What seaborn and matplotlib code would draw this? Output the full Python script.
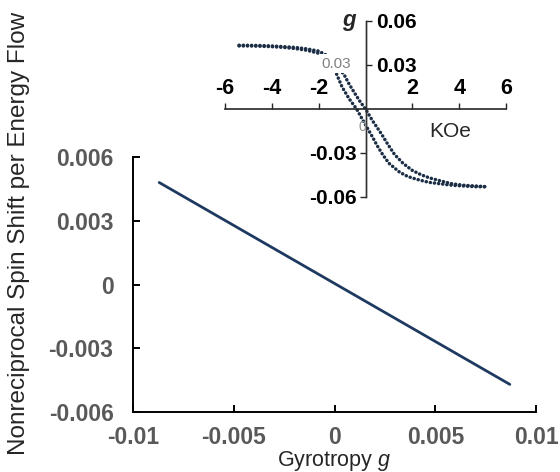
import matplotlib
matplotlib.use("Agg")
import matplotlib.pyplot as plt
import seaborn as sns

# ---------------- data ----------------
gyro = [-0.0087, 0.0087]
spin_shift = [0.0048, -0.0047]

main_xticks = [-0.01, -0.005, 0, 0.005, 0.01]
main_xlabels = ["-0.01", "-0.005", "0", "0.005", "0.01"]
main_yticks = [-0.006, -0.003, 0, 0.003, 0.006]
main_ylabels = ["-0.006", "-0.003", "0", "0.003", "0.006"]

# inset hysteresis loop (field in kOe, gyrotropy g)
field_a = [-5.4, -5.0, -4.5, -4.0, -3.5, -3.0, -2.5, -2.0, -1.7, -1.5, -1.24, -1.0,
           -0.7, -0.38, -0.1, 0.26, 0.5, 0.73, 1.0, 1.45, 1.8, 2.2, 2.7, 3.2, 3.7,
           4.2, 4.7, 5.2]
g_a = [0.043, 0.043, 0.0428, 0.0425, 0.042, 0.0412, 0.040, 0.038, 0.035, 0.031,
       0.024, 0.015, 0.007, 0.0, -0.008, -0.018, -0.025, -0.031, -0.037, -0.043,
       -0.046, -0.048, -0.050, -0.051, -0.052, -0.0525, -0.053, -0.053]
field_b = [-5.4, -4.5, -4.0, -3.5, -3.0, -2.5, -2.0, -1.7, -1.4, -1.15, -0.9, -0.7,
           -0.47, -0.25, 0.0, 0.3, 0.68, 0.95, 1.24, 1.6, 2.01, 2.4, 2.74, 3.2, 3.7,
           4.2, 4.7, 5.2]
g_b = [0.0435, 0.0433, 0.043, 0.0425, 0.042, 0.041, 0.0395, 0.037, 0.033, 0.028,
       0.023, 0.017, 0.011, 0.0055, 0.0, -0.008, -0.017, -0.024, -0.031, -0.037,
       -0.042, -0.045, -0.047, -0.049, -0.051, -0.052, -0.0525, -0.053]

inset_xticks = [-6, -4, -2, 2, 4, 6]
inset_xlabels = ["-6", "-4", "-2", "2", "4", "6"]
inset_yticks_neg = [-0.06, -0.03]
inset_ylabels_neg = ["-0.06", "-0.03"]
inset_yticks_pos = [0.03, 0.06]
inset_ylabels_pos = ["0.03", "0.06"]

# ---------------- style ----------------
sns.set_style("ticks")
plt.rcParams["font.family"] = ["Liberation Sans", "DejaVu Sans"]
plt.rcParams["mathtext.fontset"] = "custom"
plt.rcParams["mathtext.rm"] = "Liberation Sans"
plt.rcParams["mathtext.it"] = "Liberation Sans:italic"
plt.rcParams["mathtext.bf"] = "Liberation Sans:bold"

W, H = 560, 472
fig = plt.figure(figsize=(W / 100, H / 100), dpi=100)

# ---------------- main axes ----------------
ax = fig.add_axes([133 / W, 1 - 412 / H, 403 / W, 255 / H])
sns.lineplot(x=gyro, y=spin_shift, ax=ax, color="#1F3A60", linewidth=2.0)
ax.set_xlim(-0.01, 0.01)
ax.set_ylim(-0.006, 0.006)
ax.set_xticks(main_xticks, main_xlabels, fontweight="bold")
ax.set_yticks(main_yticks, main_ylabels, fontweight="bold")
ax.tick_params(direction="in", length=5, width=1.4, color="black",
               labelcolor="#595959", labelsize=16.5)
ax.tick_params(axis="x", pad=10)
ax.tick_params(axis="y", pad=14)
for s in ["top", "right"]:
    ax.spines[s].set_visible(False)
for s in ["left", "bottom"]:
    ax.spines[s].set_linewidth(1.4)
    ax.spines[s].set_color("black")

ax.set_xlabel("Gyrotropy $g$", fontsize=15.5, color="#262626", va="center")
ax.xaxis.set_label_coords(0.5, -0.192)
ax.set_ylabel("Nonreciprocal Spin Shift per Energy Flow", fontsize=17.5,
              color="#262626", va="center")
ax.yaxis.set_label_coords(-0.283, 0.70)

# ---------------- inset ----------------
axin = fig.add_axes([225 / W, 1 - 197 / H, 281 / W, 176 / H])
axin.patch.set_alpha(0)
dot_kw = dict(color="#1B2E45", linewidth=2.5, linestyle=(0, (0.05, 1.15)),
              dash_capstyle="round", sort=False)
sns.lineplot(x=field_a, y=g_a, ax=axin, **dot_kw)
sns.lineplot(x=field_b, y=g_b, ax=axin, **dot_kw)
axin.set_xlim(-6, 6)
axin.set_ylim(-0.06, 0.06)

axin.spines["bottom"].set_visible(False)
axin.spines["right"].set_visible(False)
axin.spines["top"].set_position(("data", 0))
axin.spines["left"].set_position(("data", 0))
axin.spines["top"].set_linewidth(1.2)
axin.spines["left"].set_linewidth(1.0)
axin.spines["left"].set_color("#333333")

axin.xaxis.set_ticks_position("top")
axin.set_xticks(inset_xticks, inset_xlabels, fontweight="bold")
axin.tick_params(axis="x", direction="out", length=4, width=1.0,
                 labelsize=15.5, pad=3, labelcolor="black")
axin.set_yticks(inset_yticks_neg, inset_ylabels_neg, fontweight="bold")
axin.tick_params(axis="y", direction="out", length=4, width=1.0,
                 labelsize=15, pad=2, labelcolor="black")

sec = axin.secondary_yaxis(0.5)
sec.set_yticks(inset_yticks_pos, inset_ylabels_pos, fontweight="bold")
sec.tick_params(axis="y", direction="out", length=4, width=1.0,
                labelsize=15, pad=4, labelcolor="black")
for s in sec.spines.values():
    s.set_linewidth(1.0)
    s.set_color("#333333")

axin.text(-0.4, 0.0605, "g", fontsize=16, fontweight="bold", style="italic",
          ha="right", va="center")
axin.text(3.63, -0.0155, "KOe", fontsize=15, ha="center", va="center")
axin.text(-1.25, 0.031, "0.03", fontsize=11, color="#808080", ha="center",
          va="center", bbox=dict(facecolor="white", edgecolor="none", pad=1.5))
axin.text(-0.13, -0.012, "0", fontsize=10, color="#909090", ha="center",
          va="center")

fig.savefig("out.png", dpi=100)
